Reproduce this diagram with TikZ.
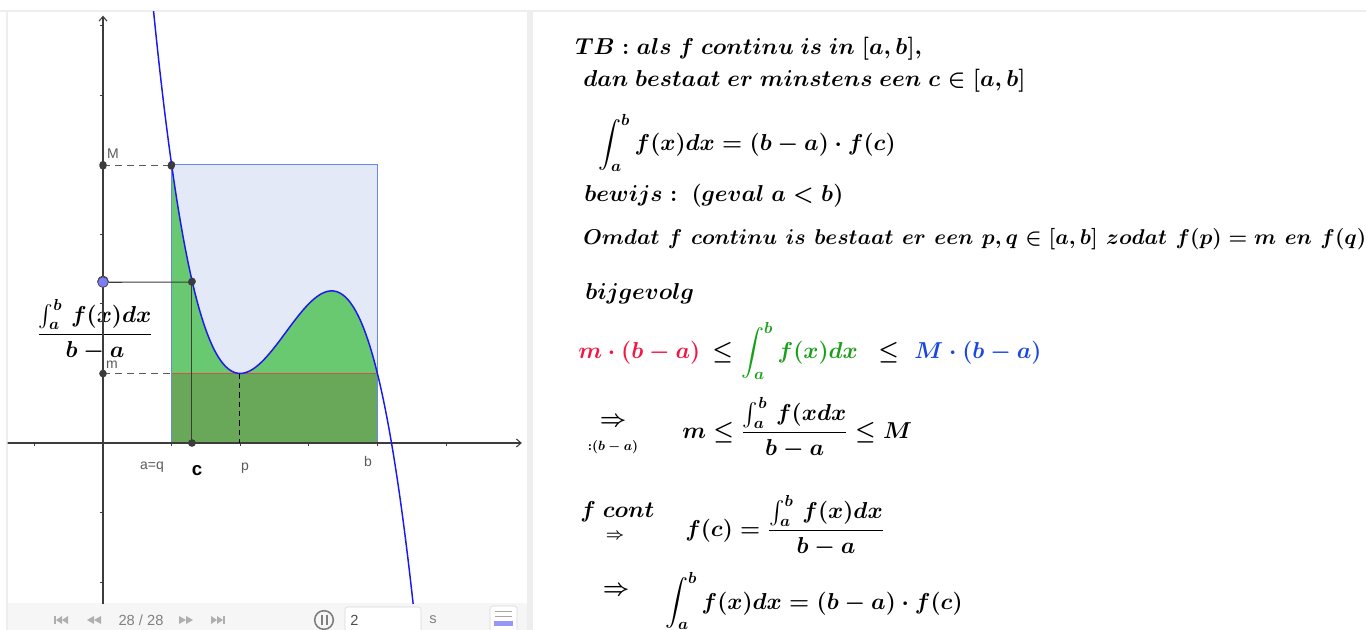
\documentclass[tikz,border=0pt]{standalone}
\usepackage{amsmath,amssymb}
\usepackage{graphicx}
\usepackage{fontspec}
\newfontfamily\ggsans{Liberation Sans}
\usetikzlibrary{arrows.meta}
\newcommand\wsp{\hspace{0.4em}}
\definecolor{curveblue}{RGB}{25,25,240}
\definecolor{rectblue}{RGB}{228,233,247}
\definecolor{rectedge}{RGB}{105,135,235}
\definecolor{areagreen}{RGB}{104,201,112}
\definecolor{darkgreen}{RGB}{104,168,88}
\definecolor{redline}{RGB}{205,85,70}
\definecolor{axisgray}{RGB}{60,60,60}
\definecolor{dotgray}{RGB}{60,60,60}
\definecolor{ptblue}{RGB}{125,125,245}
\definecolor{labgray}{RGB}{90,90,90}
\definecolor{framegray}{RGB}{238,238,238}
\definecolor{toolbg}{RGB}{246,246,246}
\definecolor{icongray}{RGB}{175,175,175}
\definecolor{txtred}{RGB}{245,20,65}
\definecolor{txtgreen}{RGB}{25,160,25}
\definecolor{txtblue}{RGB}{25,70,225}
\begin{document}
\begin{tikzpicture}[x=0.75pt,y=-0.75pt,
  dot/.style={circle,fill=dotgray,inner sep=0pt,minimum size=5.5pt},
  bluept/.style={circle,fill=ptblue,draw=dotgray,line width=0.5pt,inner sep=0pt,minimum size=8pt},
  ggl/.style={font=\ggsans\fontsize{10.5}{12}\selectfont,text=labgray,inner sep=0pt},
  axisline/.style={axisgray,line width=0.8pt},
  tick/.style={axisgray,line width=0.6pt},
  txt/.style={anchor=base west,inner sep=0pt,font=\boldmath\fontsize{17.2}{21}\selectfont},
  icon/.style={fill=icongray,draw=none},
  ]
\useasboundingbox (0,0) rectangle (1366,630);
\fill[white] (0,0) rectangle (1366,630);
% frame
\fill[framegray] (0,10) rectangle (1366,12);
\fill[framegray] (527,12) rectangle (533,630);
\fill[framegray] (6,12) rectangle (7.5,630);
\fill[toolbg] (7.5,603) rectangle (527,630);

% graph
\begin{scope}
\clip (7.5,12) rectangle (527,603);
% fraction label
\node[inner sep=0pt,font=\boldmath\fontsize{16.4}{19}\selectfont] (meanlab) at (95,330) {$\displaystyle\frac{\int_a^b\, f(x)dx}{b-a}$};
\begin{scope}[shift={(103,443)},xscale=68.6,yscale=-69.6]
\fill[rectblue] (1,0) rectangle (4,4);
\fill[areagreen] plot[domain=1:4,samples=150] (\x,{1-(\x-2)^2*(\x-4)}) -- (4,0) -- (1,0) -- cycle;
\fill[darkgreen] (1,0) rectangle (4,1);
\draw[redline,line width=0.9pt] (1,1) -- (4,1);
\draw[rectedge,line width=0.9pt] (1,0) rectangle (4,4);
\draw[curveblue!60!black,line width=0.8pt] (1,0) -- (4,0);
% axes
\coordinate (xs) at (-1.42,0);
\coordinate (xe) at (6.14,0);
\coordinate (ys) at (0,-2.4);
\coordinate (ye) at (0,6.17);
\draw[axisline,-{Straight Barb[length=3.5pt,width=6pt]}] (xs) -- (xe);
\draw[axisline,-{Straight Barb[length=3.5pt,width=6pt]}] (ys) -- (ye);
\foreach \t in {-1,1,2,3,4,5} \draw[tick] (\t,0) -- (\t,-0.05);
\foreach \t in {-2,-1,1,2,3,4,5,6} \draw[tick] (0,\t) -- (-0.05,\t);
% dashed helpers
\node[dot] (Mpt) at (0,4) {};
\node[dot] (Apt) at (1,4) {};
\node[dot] (mpt) at (0,1) {};
\coordinate (Am) at (1,1);
\coordinate (Pm) at (2,1);
\coordinate (Px) at (2,0);
\node[dot] (Cpt) at (1.3,2.323) {};
\node[dot] (Cx) at (1.3,0) {};
\node[bluept] (Ypt) at (0,2.323) {};
\draw[labgray,line width=0.8pt,dash pattern=on 5pt off 4pt] (Mpt.center) -- (Apt.center);
\draw[labgray,line width=0.8pt,dash pattern=on 5pt off 4pt] (mpt.center) -- (Am);
\draw[black,line width=0.7pt,dash pattern=on 4pt off 3pt] (Pm) -- (Px);
\draw[dotgray,line width=0.9pt] (Ypt) -- (Cpt.center);
\draw[dotgray,line width=0.9pt] (Cpt.center) -- (Cx.center);
% curve
\draw[curveblue,line width=1.1pt] plot[domain=0.72:4.62,samples=220,smooth] (\x,{1-(\x-2)^2*(\x-4)});
\node[dot] at (Apt) {};
\node[dot] at (Cpt) {};
\node[dot] at (Cx) {};
\node[bluept] at (Ypt) {};
\node[dot] at (Mpt) {};
\node[dot] at (mpt) {};
\end{scope}
\node[ggl] (labM) at (113,154) {M};
\node[ggl] (labm) at (112,365) {m};
\node[ggl] (labaq) at (152,467) {a=q};
\node[inner sep=0pt,font=\ggsans\bfseries\fontsize{14}{16}\selectfont] (labc) at (197,471) {c};
\node[ggl] (labp) at (245,468) {p};
\node[ggl] (labb) at (368,461) {b};
\end{scope}

% toolbar
\fill[icongray] (54,616) rectangle (56,624);
\fill[icongray] (56,620) -- (62,616) -- (62,624) -- cycle;
\fill[icongray] (62,620) -- (68,616) -- (68,624) -- cycle;
\fill[icongray] (87,620) -- (94,616) -- (94,624) -- cycle;
\fill[icongray] (94,620) -- (101,616) -- (101,624) -- cycle;
\node[inner sep=0pt,font=\ggsans\fontsize{11}{13}\selectfont,text=gray] (frames) at (141,620) {28 / 28};
\fill[icongray] (179,616) -- (186,620) -- (179,624) -- cycle;
\fill[icongray] (186,616) -- (193,620) -- (186,624) -- cycle;
\fill[icongray] (211,616) -- (217,620) -- (211,624) -- cycle;
\fill[icongray] (217,616) -- (223,620) -- (217,624) -- cycle;
\fill[icongray] (223,616) rectangle (225,624);
\node[circle,draw=gray,line width=1.2pt,minimum size=14pt,inner sep=0pt] (pausebtn) at (324,620) {};
\fill[gray] (320.5,615) rectangle (322.5,625);
\fill[gray] (325.5,615) rectangle (327.5,625);
\draw[fill=white,draw=framegray!80!gray,rounded corners=2pt] (345,607) rectangle (421,634);
\node[anchor=west,inner sep=0pt,font=\ggsans\fontsize{11}{13}\selectfont,text=black!70] (speed) at (350,620) {2};
\node[inner sep=0pt,font=\ggsans\fontsize{11}{13}\selectfont,text=gray] (unit) at (433,620) {s};
\draw[fill=white,draw=framegray!80!gray,rounded corners=2pt] (490,606) rectangle (517,634);
\fill[gray!70] (495,611) rectangle (512,612);
\fill[gray!70] (495,616) rectangle (512,617);
\fill[ptblue!80] (494,621) rectangle (513,626);

% right panel text
\begin{scope}
\clip (533,12) rectangle (1366,630);
\node[txt] (t1) at (575,55) {$TB: als\ f\ continu\ is\ in\ [a,b],$};
\node[txt] (t2) at (583,87) {$dan\ bestaat\ er\ minstens\ een\ c\in[a,b]$};
\node[txt] (t3) at (598,151) {$\displaystyle\int_a^b f(x)dx=(b-a)\cdot f(c)$};
\node[txt] (t4) at (584,202) {$bewijs:\ (geval\ a<b)$};
\node[txt] (t5) at (583,245) {\scalebox{0.93}{$Omdat\wsp f\wsp continu\wsp is\wsp bestaat\wsp er\wsp een\wsp p,q\in[a,b]\wsp zodat\wsp f(p)=m\wsp en\wsp f(q)=M$}};
\node[txt] (t6) at (585,300) {$bijgevolg$};
\node[txt,text=txtred] (t7a) at (578,359) {$m\cdot(b-a)$};
\node[txt] (t7b) at (712,359) {$\le$};
\node[txt,text=txtgreen] (t7c) at (741,359) {$\displaystyle\int_a^b f(x)dx$};
\node[txt] (t7d) at (878,359) {$\le$};
\node[txt,text=txtblue] (t7e) at (914,359) {$M\cdot(b-a)$};
\node[inner sep=0pt,font=\boldmath\fontsize{17.2}{21}\selectfont] (imp1) at (613,422) {$\Rightarrow$};
\node[inner sep=0pt,font=\boldmath\fontsize{10}{12}\selectfont] (div1) at (613,447) {${:}(b-a)$};
\node[txt] (t8) at (682,438) {$m\le\dfrac{\int_a^b\, f(xdx}{b-a}\le M$};
\node[txt] (t9a) at (580,517.5) {$f\ cont$};
\node[inner sep=0pt,font=\boldmath\fontsize{12}{14}\selectfont] (imp2) at (615,536) {$\Rightarrow$};
\node[txt] (t9b) at (685,536) {$f(c)=\dfrac{\int_a^b\, f(x)dx}{b-a}$};
\node[inner sep=0pt,font=\boldmath\fontsize{17.2}{21}\selectfont] (imp3) at (616,591) {$\Rightarrow$};
\node[txt] (t10) at (665,609) {$\displaystyle\int_a^b f(x)dx=(b-a)\cdot f(c)$};
\end{scope}
\end{tikzpicture}
\end{document}
